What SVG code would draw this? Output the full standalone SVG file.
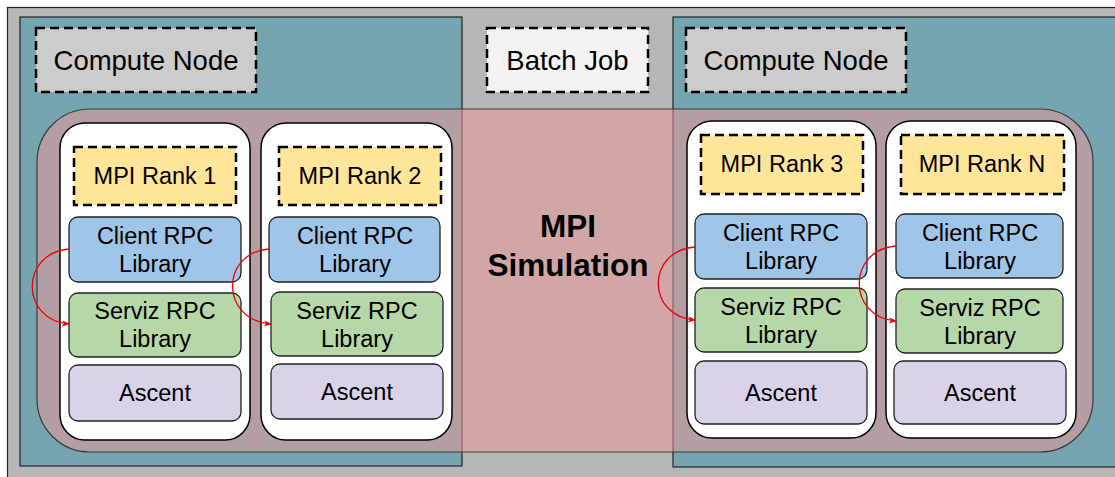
<svg xmlns="http://www.w3.org/2000/svg" width="1115" height="477" viewBox="0 0 1115 477">
<defs>
<style>
text{font-family:"Liberation Sans",Arial,sans-serif;fill:#000;text-anchor:middle}
.lbl{font-size:27.5px}
.t{font-size:23.5px}
.sim{font-size:31.5px;font-weight:bold}
.node{fill:#76a5af;stroke:#222;stroke-width:1.2}
.dash{stroke:#000;stroke-width:2.5;stroke-dasharray:9,5}
.panel{fill:#fff;stroke:#000;stroke-width:1.5}
.box{stroke:#222;stroke-width:1.3}
.rank{fill:#ffe599}
.cli{fill:#9fc5e8}
.srv{fill:#b6d7a8}
.asc{fill:#d9d2e9}
.arr{fill:none;stroke:#e00;stroke-width:1.3;marker-end:url(#ah)}
</style>
<marker id="ah" viewBox="0 0 10 10" refX="9" refY="5" markerWidth="8" markerHeight="8" orient="auto" markerUnits="userSpaceOnUse">
<path d="M0,1 L10,5 L0,9 L3,5 Z" fill="#e00"/>
</marker>
</defs>
<rect id="batch" x="7.5" y="7.5" width="1120" height="480" fill="#b7b7b7" stroke="#222" stroke-width="1.2"/>
<g id="computeNodeLeft"><rect class="node" x="20" y="17" width="442" height="449"/></g>
<g id="computeNodeRight"><rect class="node" x="673" y="17" width="460" height="450"/></g>
<g id="mpiSimulation">
<rect x="37" y="109" width="1056" height="343" rx="53" ry="53" fill="#ea9999" fill-opacity="0.55" stroke="#222" stroke-opacity="0.8" stroke-width="1.2"/>
<text class="sim" x="568" y="237">MPI</text>
<text class="sim" x="568" y="276">Simulation</text>
</g>
<g id="labelComputeLeft"><rect class="dash" x="36" y="28" width="220" height="64" fill="#cccccc"/><text class="lbl" x="146" y="70">Compute Node</text></g>
<g id="labelBatch"><rect class="dash" x="487" y="28" width="161" height="64" fill="#f3f3f3"/><text class="lbl" x="567.5" y="70">Batch Job</text></g>
<g id="labelComputeRight"><rect class="dash" x="686" y="28" width="220" height="64" fill="#cccccc"/><text class="lbl" x="796" y="70">Compute Node</text></g>

<g id="rank1">
<rect class="panel" x="60" y="123" width="190" height="317" rx="25"/>
<rect class="dash rank" x="74" y="147" width="162" height="58"/><text class="t" x="155" y="184">MPI Rank 1</text>
<rect class="box cli" x="69" y="217" width="172" height="65" rx="9"/><text class="t" x="155" y="244">Client RPC</text><text class="t" x="155" y="272">Library</text>
<rect class="box srv" x="69" y="293" width="172" height="64" rx="9"/><text class="t" x="155" y="319">Serviz RPC</text><text class="t" x="155" y="347">Library</text>
<rect class="box asc" x="69" y="365" width="172" height="56" rx="9"/><text class="t" x="155" y="401">Ascent</text>
</g>
<g id="rank2">
<rect class="panel" x="261" y="123" width="191" height="317" rx="25"/>
<rect class="dash rank" x="279" y="147" width="162" height="58"/><text class="t" x="360" y="184">MPI Rank 2</text>
<rect class="box cli" x="269" y="217" width="171" height="65" rx="9"/><text class="t" x="355" y="244">Client RPC</text><text class="t" x="355" y="272">Library</text>
<rect class="box srv" x="271" y="292" width="172" height="64" rx="9"/><text class="t" x="357" y="319">Serviz RPC</text><text class="t" x="357" y="347">Library</text>
<rect class="box asc" x="271" y="364" width="172" height="55" rx="9"/><text class="t" x="357" y="400">Ascent</text>
</g>
<g id="rank3">
<rect class="panel" x="687" y="121" width="189" height="317" rx="25"/>
<rect class="dash rank" x="701" y="135" width="162" height="59"/><text class="t" x="782" y="172">MPI Rank 3</text>
<rect class="box cli" x="695" y="214" width="172" height="65" rx="9"/><text class="t" x="781" y="241">Client RPC</text><text class="t" x="781" y="269">Library</text>
<rect class="box srv" x="695" y="288" width="172" height="64" rx="9"/><text class="t" x="781" y="315">Serviz RPC</text><text class="t" x="781" y="343">Library</text>
<rect class="box asc" x="695" y="361" width="172" height="63" rx="9"/><text class="t" x="781" y="401">Ascent</text>
</g>
<g id="rankN">
<rect class="panel" x="886" y="121" width="190" height="317" rx="25"/>
<rect class="dash rank" x="901" y="135" width="163" height="59"/><text class="t" x="982" y="172">MPI Rank N</text>
<rect class="box cli" x="896" y="214" width="167" height="64" rx="9"/><text class="t" x="980" y="241">Client RPC</text><text class="t" x="980" y="269">Library</text>
<rect class="box srv" x="896" y="289" width="167" height="64" rx="9"/><text class="t" x="980" y="316">Serviz RPC</text><text class="t" x="980" y="344">Library</text>
<rect class="box asc" x="894" y="361" width="172" height="63" rx="9"/><text class="t" x="980" y="401">Ascent</text>
</g>
<g id="connectors">
<path class="arr" d="M69,249 C20,253 20,320 69,324"/>
<path class="arr" d="M269,249 C220,253 220,320 271,324"/>
<path class="arr" d="M695,247 C646,251 646,316 695,320"/>
<path class="arr" d="M896,246 C847,250 847,317 896,321"/>
</g>
</svg>
